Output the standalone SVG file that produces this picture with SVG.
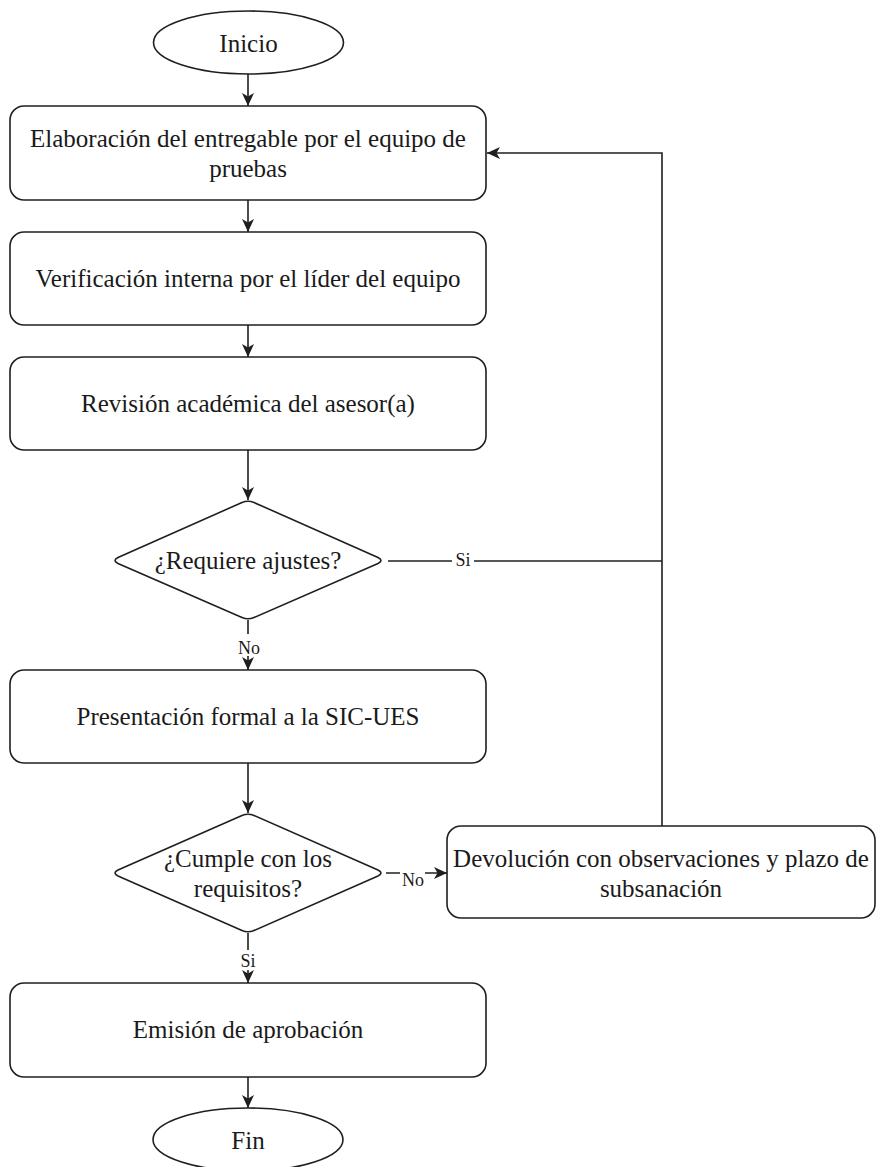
<svg xmlns="http://www.w3.org/2000/svg" width="876" height="1167" viewBox="0 0 876 1167">
  <style>
    .shape { fill: #ffffff; stroke: #1f1f1f; stroke-width: 1.6; }
    .edge { fill: none; stroke: #1f1f1f; stroke-width: 1.6; }
    .txt { font-family: "Liberation Serif", "Times New Roman", serif; font-size: 25px; fill: #1a1a1a; text-anchor: middle; }
    .lbl { font-family: "Liberation Serif", "Times New Roman", serif; font-size: 18px; fill: #1a1a1a; text-anchor: middle; }
    .lblbg { fill: #ffffff; stroke: none; }
  </style>
  <defs>
    <marker id="arrow" markerUnits="userSpaceOnUse" viewBox="0 0 13 12" markerWidth="13" markerHeight="12" refX="13" refY="6" orient="auto">
      <path d="M0,0 L13,6 L0,12 L3.5,6 Z" fill="#1f1f1f"/>
    </marker>
  </defs>
  <rect width="876" height="1167" fill="#ffffff"/>

  <!-- connectors -->
  <g id="connectors">
    <line class="edge" x1="248" y1="74" x2="248" y2="106" marker-end="url(#arrow)"/>
    <line class="edge" x1="248" y1="200" x2="248" y2="232" marker-end="url(#arrow)"/>
    <line class="edge" x1="248" y1="325" x2="248" y2="357" marker-end="url(#arrow)"/>
    <line class="edge" x1="248" y1="450" x2="248" y2="500" marker-end="url(#arrow)"/>
    <line class="edge" x1="248" y1="620" x2="248" y2="670" marker-end="url(#arrow)"/>
    <line class="edge" x1="248" y1="763" x2="248" y2="813" marker-end="url(#arrow)"/>
    <line class="edge" x1="248" y1="933" x2="248" y2="983" marker-end="url(#arrow)"/>
    <line class="edge" x1="248" y1="1077" x2="248" y2="1108" marker-end="url(#arrow)"/>
    <!-- Si branch: back to the start of the process -->
    <polyline class="edge" points="388,561 662,561"/>
    <polyline class="edge" points="662,826 662,153 487,153" marker-end="url(#arrow)"/>
    <!-- No branch: return with observations -->
    <line class="edge" x1="386" y1="873" x2="447" y2="873" marker-end="url(#arrow)"/>

    <!-- edge labels -->
    <rect class="lblbg" x="452" y="550" width="22" height="20"/>
    <text class="lbl" x="463" y="566">Si</text>
    <rect class="lblbg" x="236" y="634" width="25" height="22"/>
    <text class="lbl" x="249" y="654">No</text>
    <rect class="lblbg" x="400" y="871" width="25" height="20"/>
    <text class="lbl" x="413" y="886">No</text>
    <rect class="lblbg" x="238" y="950" width="20" height="20"/>
    <text class="lbl" x="248" y="967">Si</text>
  </g>

  <g id="inicio">
    <ellipse class="shape" cx="248.5" cy="42.5" rx="95" ry="31.5"/>
    <text class="txt" x="248.5" y="52">Inicio</text>
  </g>

  <g id="elaboracion">
    <rect class="shape" x="10" y="106" width="476" height="94" rx="14" ry="14"/>
    <text class="txt" x="248" y="147">Elaboración del entregable por el equipo de</text>
    <text class="txt" x="248" y="177">pruebas</text>
  </g>

  <g id="verificacion">
    <rect class="shape" x="10" y="232" width="476" height="93" rx="14" ry="14"/>
    <text class="txt" x="248" y="287">Verificación interna por el líder del equipo</text>
  </g>

  <g id="revision">
    <rect class="shape" x="10" y="357" width="476" height="93" rx="14" ry="14"/>
    <text class="txt" x="248" y="412">Revisión académica del asesor(a)</text>
  </g>

  <g id="requiere-ajustes">
    <path class="shape" d="M242,502.5 Q248,500 254,502.5 L378,557.5 Q384,560.5 378,563.5 L254,617.5 Q248,620 242,617.5 L118,563.5 Q112,560.5 118,557.5 Z"/>
    <text class="txt" x="248" y="569">¿Requiere ajustes?</text>
  </g>

  <g id="presentacion">
    <rect class="shape" x="10" y="670" width="476" height="93" rx="14" ry="14"/>
    <text class="txt" x="248" y="725">Presentación formal a la SIC-UES</text>
  </g>

  <g id="cumple-requisitos">
    <path class="shape" d="M242,815.5 Q248,813 254,815.5 L378,870 Q384,873 378,876 L254,930.5 Q248,933 242,930.5 L118,876 Q112,873 118,870 Z"/>
    <text class="txt" x="248" y="867">¿Cumple con los</text>
    <text class="txt" x="248" y="897">requisitos?</text>
  </g>

  <g id="devolucion">
    <rect class="shape" x="447" y="826" width="428" height="92" rx="14" ry="14"/>
    <text class="txt" x="661" y="867">Devolución con observaciones y plazo de</text>
    <text class="txt" x="661" y="897">subsanación</text>
  </g>

  <g id="emision">
    <rect class="shape" x="10" y="983" width="476" height="94" rx="14" ry="14"/>
    <text class="txt" x="248" y="1038">Emisión de aprobación</text>
  </g>

  <g id="fin">
    <ellipse class="shape" cx="248" cy="1139.5" rx="95" ry="31.5"/>
    <text class="txt" x="248" y="1149">Fin</text>
  </g>
</svg>
